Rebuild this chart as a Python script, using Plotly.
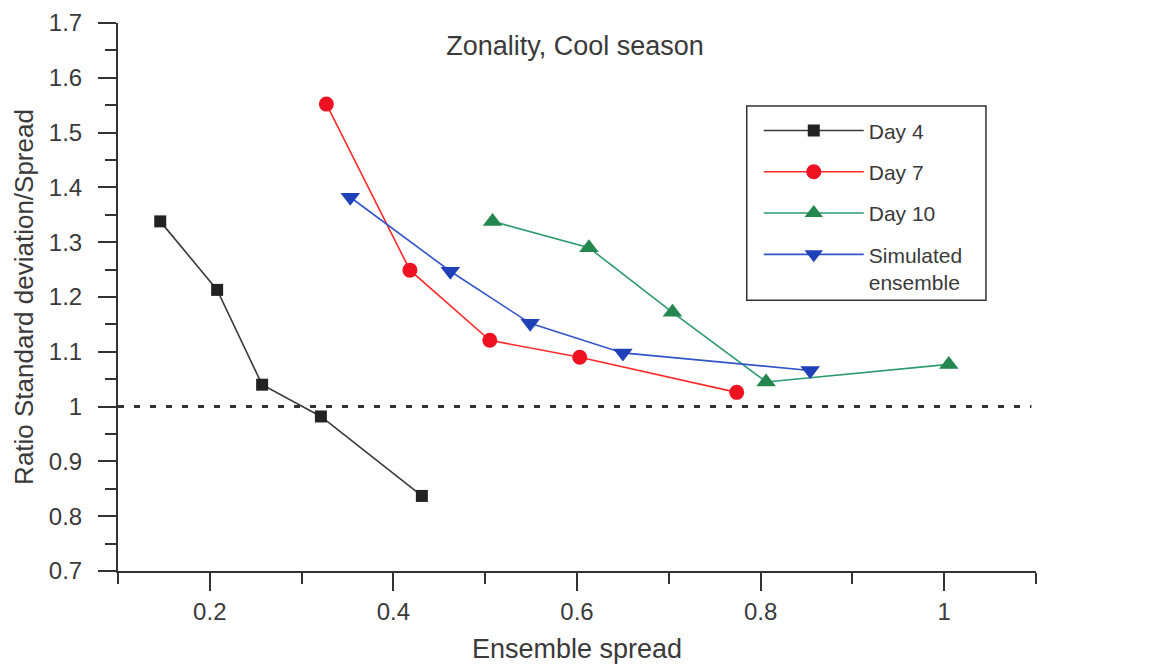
import plotly.graph_objects as go

# ---- data ----
day4_x = [0.146, 0.208, 0.257, 0.321, 0.431]
day4_y = [1.338, 1.213, 1.040, 0.982, 0.837]

day7_x = [0.327, 0.418, 0.505, 0.603, 0.774]
day7_y = [1.552, 1.249, 1.121, 1.090, 1.026]

day10_x = [0.508, 0.613, 0.704, 0.806, 1.005]
day10_y = [1.338, 1.290, 1.172, 1.045, 1.077]

sim_x = [0.353, 0.462, 0.549, 0.650, 0.854]
sim_y = [1.382, 1.247, 1.152, 1.098, 1.066]

series_names = ["Day 4", "Day 7", "Day 10", "Simulated<br>ensemble"]

x_tickvals = [0.2, 0.4, 0.6, 0.8, 1.0]
x_ticktext = ["0.2", "0.4", "0.6", "0.8", "1"]
y_tickvals = [0.7, 0.8, 0.9, 1.0, 1.1, 1.2, 1.3, 1.4, 1.5, 1.6, 1.7]
y_ticktext = ["0.7", "0.8", "0.9", "1", "1.1", "1.2", "1.3", "1.4", "1.5", "1.6", "1.7"]

ref_y = 1.0
ref_x_start = 0.1
ref_x_end = 1.095

FONT = "Liberation Sans, Arial, sans-serif"
TXT = "#3a3a3a"

fig = go.Figure()

fig.add_trace(go.Scatter(
    x=day4_x, y=day4_y, name=series_names[0], mode="lines+markers",
    line=dict(color="#3a3a3a", width=1.6),
    marker=dict(symbol="square", size=12, color="#222222"),
    legendgroup="g1"))
fig.add_trace(go.Scatter(
    x=day7_x, y=day7_y, name=series_names[1], mode="lines+markers",
    line=dict(color="#ff2a2a", width=1.6),
    marker=dict(symbol="circle", size=15, color="#ee1122"),
    legendgroup="g2"))
fig.add_trace(go.Scatter(
    x=day10_x, y=day10_y, name=series_names[2], mode="lines+markers",
    line=dict(color="#2e9a70", width=1.6),
    marker=dict(symbol="triangle-up", size=17, color="#23874f"),
    legendgroup="g3"))
fig.add_trace(go.Scatter(
    x=sim_x, y=sim_y, name=series_names[3], mode="lines+markers",
    line=dict(color="#3355c8", width=1.6),
    marker=dict(symbol="triangle-down", size=17, color="#2040b8"),
    legendgroup="g4"))

# dotted reference line at ratio = 1
fig.add_shape(type="line", xref="x", yref="y",
              x0=ref_x_start, x1=ref_x_end, y0=ref_y, y1=ref_y,
              line=dict(color="#333333", width=3, dash="6px,10px"))

# legend frame (drawn separately so the legend items can sit inside it freely)
fig.add_shape(type="rect", xref="paper", yref="paper",
              x0=0.6849, x1=0.9455, y0=0.494, y1=0.8485,
              line=dict(color="#333333", width=1.5), fillcolor="rgba(0,0,0,0)")

fig.update_layout(
    width=1162, height=664,
    margin=dict(l=118, r=126, t=23, b=93, autoexpand=False),
    paper_bgcolor="white", plot_bgcolor="white",
    font=dict(family=FONT, color=TXT, size=24),
    title=dict(text="Zonality, Cool season", x=575 / 1162, xanchor="center",
               y=1 - 46 / 664, yanchor="middle",
               font=dict(size=27, color=TXT, family=FONT)),
    showlegend=True,
    legend=dict(
        x=0.698, y=0.8407, xanchor="left", yanchor="top",
        borderwidth=0, bgcolor="rgba(255,255,255,0)",
        font=dict(size=21, color=TXT, family=FONT),
        itemwidth=100, tracegroupgap=11, valign="top"),
    xaxis=dict(
        range=[0.1, 1.1], showgrid=False, zeroline=False, automargin=False,
        showline=True, linecolor="#333333", linewidth=2,
        tickmode="array", tickvals=x_tickvals, ticktext=x_ticktext,
        ticks="outside", ticklen=18, tickwidth=2, tickcolor="#333333",
        ticklabelstandoff=0,
        tickfont=dict(size=24, color=TXT),
        minor=dict(dtick=0.1, tick0=0.1, ticks="outside", ticklen=11,
                   tickwidth=2, tickcolor="#333333", showgrid=False),
        title=dict(text="Ensemble spread", font=dict(size=27, color=TXT), standoff=20),
    ),
    yaxis=dict(
        range=[0.7, 1.7], showgrid=False, zeroline=False, automargin=False,
        showline=True, linecolor="#333333", linewidth=2,
        tickmode="array", tickvals=y_tickvals, ticktext=y_ticktext,
        ticks="outside", ticklen=18, tickwidth=2, tickcolor="#333333",
        ticklabelstandoff=11,
        tickfont=dict(size=24, color=TXT),
        minor=dict(dtick=0.05, tick0=0.7, ticks="outside", ticklen=11,
                   tickwidth=2, tickcolor="#333333", showgrid=False),
        title=dict(text="Ratio Standard deviation/Spread", font=dict(size=26, color=TXT), standoff=8),
    ),
)

fig.write_html("out.html")
